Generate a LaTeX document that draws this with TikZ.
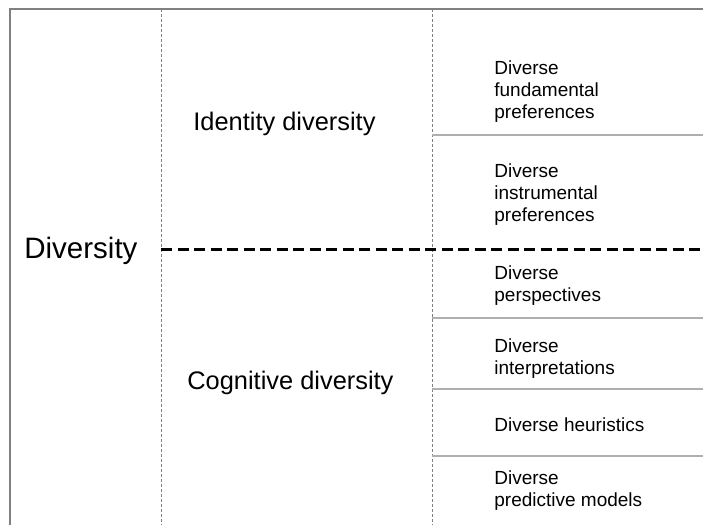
\documentclass[tikz,border=0pt]{standalone}
\usepackage{fontspec}
\setmainfont{Liberation Sans}

\definecolor{rule}{RGB}{128,128,128}
\definecolor{cellrule}{RGB}{175,175,175}

\tikzset{
  frame/.style={rule, line width=0.75pt},
  colsep/.style={rule, line width=0.5pt, dash pattern=on 1.5pt off 1pt},
  split/.style={black, line width=1.5pt, dash pattern=on 5.5pt off 2.75pt},
  cellsep/.style={cellrule, line width=0.75pt},
  item/.style={anchor=west, align=left, inner sep=0pt, font=\fontsize{9.5pt}{11.2pt}\selectfont},
  group/.style={anchor=west, inner sep=0pt, font=\fontsize{12.7pt}{15pt}\selectfont}
}

\begin{document}
\begin{tikzpicture}[x=0.5pt, y=-0.5pt]
        \useasboundingbox (0,0) rectangle (703,525);

        % outer frame (top and left only)
        \draw[frame] (703,9) -- (10,9) -- (10,525);

        % column separators
        \draw[colsep] (161,9) -- (161,525);
        \draw[colsep] (432,9) -- (432,525);

        % rows of the right column
        \draw[cellsep] (432,135) -- (703,135);
        \draw[cellsep] (432,318) -- (703,318);
        \draw[cellsep] (432,389) -- (703,389);
        \draw[cellsep] (432,456) -- (703,456);

        % identity / cognitive split
        \draw[split] (161,249) -- (703,249);

        \node[anchor=west, inner sep=0pt, font=\fontsize{14.75pt}{17pt}\selectfont] (diversity) at (24,251) {Diversity};

        \node[group] (identity) at (193,123.5) {Identity diversity};
        \node[group] (cognitive) at (187,382.5) {Cognitive diversity};

        \node[item] (fundamental) at (494,91.5) {Diverse\\fundamental\\preferences};
        \node[item] (instrumental) at (494,194.5) {Diverse\\instrumental\\preferences};
        \node[item] (perspectives) at (494,285.5) {Diverse\\perspectives};
        \node[item] (interpretations) at (494,358.5) {Diverse\\interpretations};
        \node[item] (heuristics) at (494,425) {Diverse heuristics};
        \node[item] (predictive) at (494,490.5) {Diverse\\predictive models};
    \end{tikzpicture}
\end{document}
